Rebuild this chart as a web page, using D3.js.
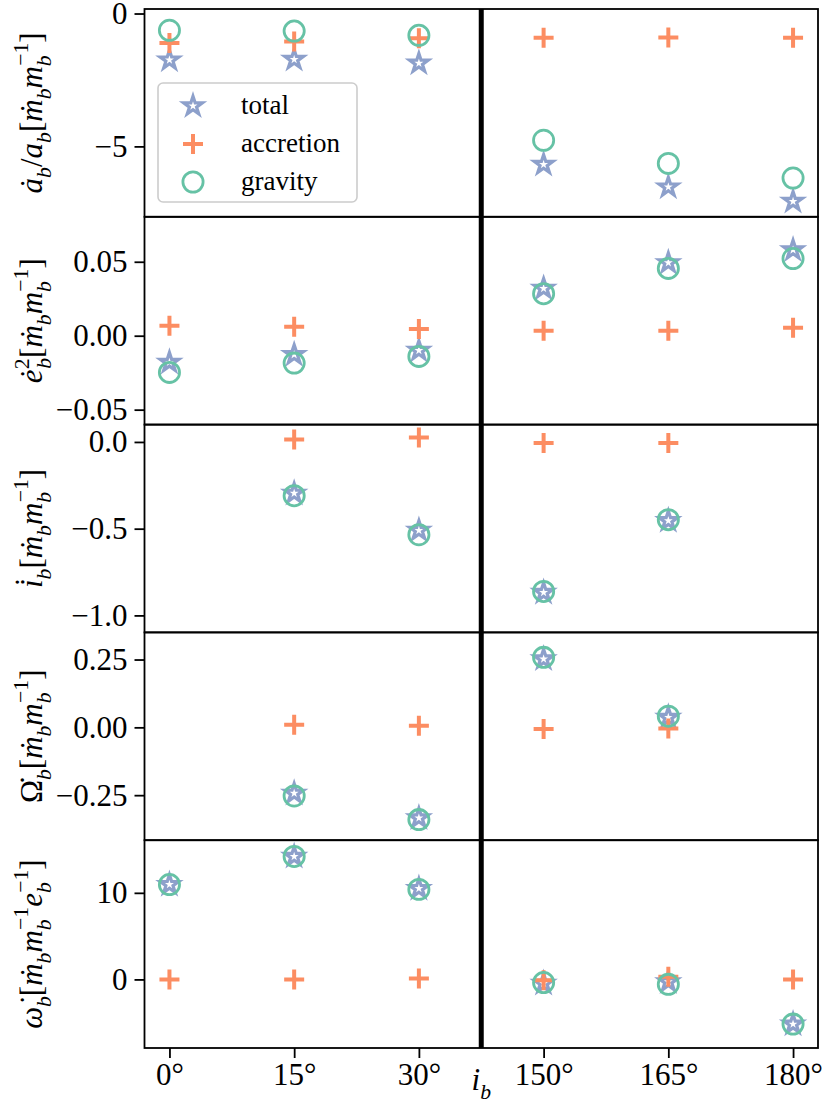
<!DOCTYPE html>
<html>
<head>
<meta charset="utf-8">
<title>binary evolution vs inclination</title>
<style>
  body { margin: 0; background: #fff; }
  svg text { font-family: "Liberation Serif", "DejaVu Serif", serif; fill: #000; }
  .frame { fill: none; stroke: #000; stroke-width: 1.8; }
  .divider { stroke: #000; stroke-width: 5; }
  .axis path.domain { display: none; }
  .axis line { stroke: #000; stroke-width: 1.8; }
  .axis text { font-size: 31px; }
  .legend-box { fill: #fff; fill-opacity: 0.8; stroke: #cccccc; stroke-width: 1.6; }
  .legend text { font-size: 27px; }
</style>
</head>
<body>
<svg id="chart"></svg>
<script src="https://d3js.org/d3.v7.min.js"></script>
<script>
// inclinations on the broken x axis
var inclinations = [0, 15, 30, 150, 165, 180];
var xTickLabels = ["0°", "15°", "30°", "150°", "165°", "180°"];
var seriesNames = ["total", "accretion", "gravity"];
var seriesColors = ["#8da0cb", "#fc8d62", "#66c2a5"];

// row 1: semi-major axis
var adotTotal     = [-1.75, -1.73, -1.87, -5.68, -6.53, -7.07];
var adotAccretion = [-1.11, -1.05, -0.93, -0.91, -0.90, -0.91];
var adotGravity   = [-0.63, -0.66, -0.82, -4.77, -5.64, -6.19];

// row 2: eccentricity squared
var edotTotal     = [-0.0180, -0.0128, -0.0100, 0.0320, 0.0493, 0.0580];
var edotAccretion = [0.0068, 0.0060, 0.0046, 0.0034, 0.0034, 0.0053];
var edotGravity   = [-0.0248, -0.0185, -0.0140, 0.0284, 0.0455, 0.0522];

// row 3: inclination (undefined for aligned / counter-aligned)
var idotTotal     = [null, -0.296, -0.510, -0.868, -0.454, null];
var idotAccretion = [null, 0.014, 0.025, -0.006, -0.006, null];
var idotGravity   = [null, -0.310, -0.535, -0.862, -0.448, null];

// row 4: longitude of ascending node
var OdotTotal     = [null, -0.243, -0.334, 0.252, 0.037, null];
var OdotAccretion = [null, 0.010, 0.006, -0.006, -0.004, null];
var OdotGravity   = [null, -0.253, -0.340, 0.258, 0.041, null];

// row 5: argument of pericentre
var wdotTotal     = [10.96, 14.2, 10.5, -0.46, -0.27, -5.16];
var wdotAccretion = [0.0, 0.0, 0.1, -0.1, 0.3, 0.0];
var wdotGravity   = [10.96, 14.2, 10.4, -0.36, -0.57, -5.16];

// y ticks per row
var aTicks = [0, -5];
var eTicks = [0.05, 0.0, -0.05];
var iTicks = [0.0, -0.5, -1.0];
var OTicks = [0.25, 0.0, -0.25];
var wTicks = [10, 0];

var W = 830, H = 1104;
var margin = { top: 9, right: 12, bottom: 56, left: 144.5 };
var rowH = (H - margin.top - margin.bottom) / 5;

var rows = [
  { series: [adotTotal, adotAccretion, adotGravity], domain: [-7.65, 0.17], ticks: aTicks, fmt: "d",
    label: [["ȧ","i"],["b","sub"],["/","r"],["a","i"],["b","sub"],["[","r"],["ṁ","i"],["b","sub"],["m","i"],["b","sub"],["−1","sup",true],["]","r"]] },
  { series: [edotTotal, edotAccretion, edotGravity], domain: [-0.0601, 0.0804], ticks: eTicks, fmt: ".2f",
    label: [["ė","i"],["2","supr"],["b","sub",true,0.33],["[","r"],["ṁ","i"],["b","sub"],["m","i"],["b","sub"],["−1","sup",true],["]","r"]] },
  { series: [idotTotal, idotAccretion, idotGravity], domain: [-1.098, 0.10], ticks: iTicks, fmt: ".1f",
    label: [["i̇","i"],["b","sub"],["[","r"],["ṁ","i"],["b","sub"],["m","i"],["b","sub"],["−1","sup",true],["]","r"]] },
  { series: [OdotTotal, OdotAccretion, OdotGravity], domain: [-0.416, 0.35], ticks: OTicks, fmt: ".2f",
    label: [["Ω̇","r"],["b","sub"],["[","r"],["ṁ","i"],["b","sub"],["m","i"],["b","sub"],["−1","sup",true],["]","r"]] },
  { series: [wdotTotal, wdotAccretion, wdotGravity], domain: [-7.92, 16.08], ticks: wTicks, fmt: "d",
    label: [["ω̇","i"],["b","sub"],["[","r"],["ṁ","i"],["b","sub"],["m","i"],["b","sub"],["−1","sup",true],["e","i"],["b","sub"],["−1","sup",true],["]","r"]] }
];

var svg = d3.select("#chart").attr("width", W).attr("height", H);

var x = d3.scaleLinear().domain([-0.2, 5.2]).range([margin.left, W - margin.right]);

// stroke-only plus marker
var plusType = {
  draw: function(ctx, size) {
    var r = Math.sqrt(size) / 2;
    ctx.moveTo(-r, 0); ctx.lineTo(r, 0);
    ctx.moveTo(0, -r); ctx.lineTo(0, r);
  }
};
var markers = [
  { path: d3.symbol(d3.symbolStar, 108)(), width: 3.2 },
  { path: d3.symbol(plusType, 400)(), width: 4 },
  { path: d3.symbol(d3.symbolCircle, 320)(), width: 2.8 }
];

// math-ish label builder: parts of [text, kind, backToPrev, backEm]
function mathText(sel, parts, fs) {
  var cur = 0;
  parts.forEach(function(p) {
    var kind = p[1], off = 0, size = fs, style = "normal";
    if (kind === "i") style = "italic";
    if (kind === "sub") { off = 0.3 * fs; size = 0.7 * fs; style = "italic"; }
    if (kind === "sup") { off = -0.45 * fs; size = 0.7 * fs; }
    if (kind === "supr") { off = -0.42 * fs; size = 0.7 * fs; }
    var t = sel.append("tspan")
      .attr("dy", off - cur)
      .attr("font-size", size)
      .attr("font-style", style)
      .text(p[0]);
    if (p[2]) t.attr("dx", -(p[3] || 0.34) * fs);
    cur = off;
  });
  if (cur !== 0) sel.append("tspan").attr("dy", -cur).text("");
}

rows.forEach(function(row, r) {
  var top = margin.top + r * rowH, bottom = top + rowH;
  var y = d3.scaleLinear().domain(row.domain).range([bottom, top]);
  var g = svg.append("g").attr("class", "row");

  g.append("g")
    .attr("class", "axis")
    .attr("transform", "translate(" + margin.left + ",0)")
    .call(d3.axisLeft(y).tickValues(row.ticks).tickSize(10).tickPadding(7)
      .tickFormat(d3.format(row.fmt)));

  row.series.forEach(function(vals, s) {
    var pts = vals.map(function(v, i) { return { i: i, v: v }; })
      .filter(function(d) { return d.v !== null; });
    g.append("g").selectAll("path").data(pts).join("path")
      .attr("d", markers[s].path)
      .attr("transform", function(d) { return "translate(" + x(d.i) + "," + y(d.v) + ")"; })
      .attr("fill", "none")
      .attr("stroke", seriesColors[s])
      .attr("stroke-width", markers[s].width)
      .attr("stroke-linejoin", "miter");
  });

  g.append("line").attr("class", "divider")
    .attr("x1", x(2.5)).attr("x2", x(2.5)).attr("y1", top).attr("y2", bottom);

  g.append("rect").attr("class", "frame")
    .attr("x", margin.left).attr("y", top)
    .attr("width", W - margin.right - margin.left).attr("height", rowH);

  var lab = g.append("text")
    .attr("transform", "translate(42," + (top + rowH / 2) + ") rotate(-90)")
    .attr("text-anchor", "middle")
    .attr("font-size", 31);
  mathText(lab, row.label, 31);
});

// bottom x axis
var plotBottom = margin.top + 5 * rowH;
svg.append("g")
  .attr("class", "axis")
  .attr("transform", "translate(0," + plotBottom + ")")
  .call(d3.axisBottom(x).tickValues(d3.range(inclinations.length)).tickSize(10).tickPadding(5)
    .tickFormat(function(i) { return xTickLabels[i]; }));

var xl = svg.append("text")
  .attr("x", x(2.5)).attr("y", 1090)
  .attr("text-anchor", "middle").attr("font-size", 31);
mathText(xl, [["i","i"],["b","sub"]], 31);

// legend in the top panel
var legend = svg.append("g").attr("class", "legend");
legend.append("rect").attr("class", "legend-box")
  .attr("x", 158).attr("y", 83).attr("width", 199).attr("height", 119).attr("rx", 5);
seriesNames.forEach(function(name, s) {
  var ly = 106 + s * 38;
  legend.append("path")
    .attr("d", markers[s].path)
    .attr("transform", "translate(193," + ly + ")")
    .attr("fill", "none")
    .attr("stroke", seriesColors[s])
    .attr("stroke-width", markers[s].width);
  legend.append("text").attr("x", 241).attr("y", ly + 8).text(name);
});
</script>
</body>
</html>
